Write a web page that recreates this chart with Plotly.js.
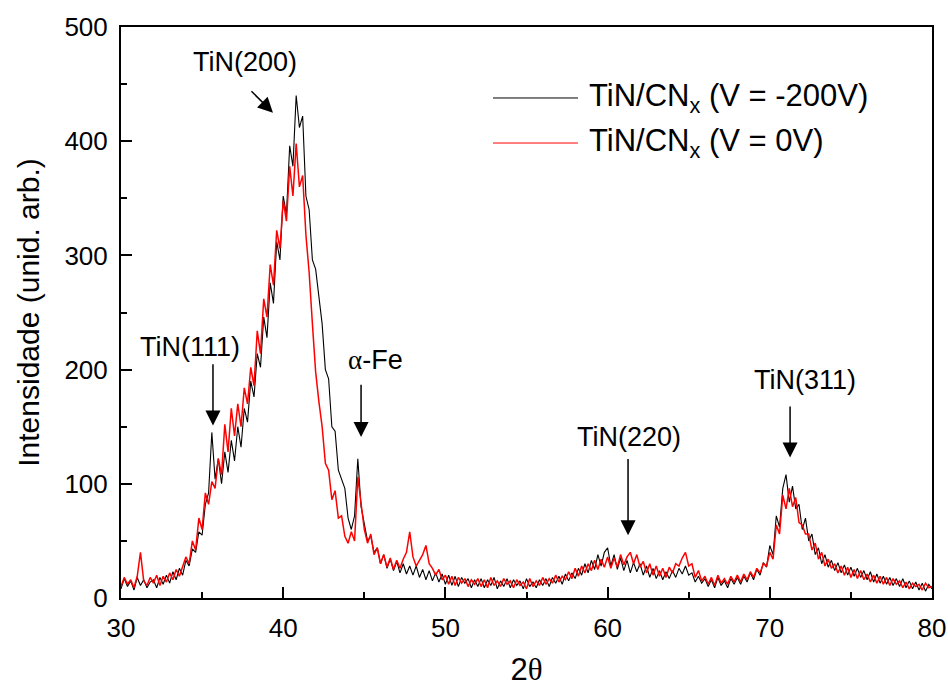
<!DOCTYPE html>
<html>
<head>
<meta charset="utf-8">
<script src="https://cdn.plot.ly/plotly-3.0.1.min.js"></script>
<style>html,body{margin:0;padding:0;background:#fff;}#chart{width:948px;height:689px;}</style>
</head>
<body>
<div id="chart"></div>
<script>
// 2-theta sampling grid: 30.0 to 80.0 in steps of 0.2 degrees
const thetaStart = 30;
const thetaStep = 0.2;

// Intensity, TiN/CNx (V = -200V), one value per grid step (10 values = 2 degrees per row)
const intensityNeg200 = [
  8, 17, 10, 15, 7, 18, 11, 16, 9, 14,
  16, 9, 18, 12, 20, 13, 23, 16, 26, 20,
  33, 28, 43, 40, 58, 55, 82, 92, 145, 104,
  122, 100, 128, 110, 138, 120, 150, 132, 166, 154,
  190, 176, 214, 202, 246, 228, 276, 258, 312, 296,
  352, 336, 396, 378, 440, 412, 422, 352, 340, 296,
  288, 262, 240, 200, 192, 150, 146, 112, 104, 96,
  70, 60, 72, 122, 80, 66, 50, 54, 40, 44,
  30, 38, 26, 34, 24, 32, 22, 30, 21, 28,
  20, 28, 18, 25, 16, 24, 15, 22, 14, 21,
  12, 20, 11, 19, 10, 18, 13, 17, 9, 16,
  10, 17, 9, 16, 11, 18, 8, 15, 10, 17,
  9, 16, 11, 15, 8, 17, 10, 14, 9, 16,
  11, 17, 10, 18, 13, 19, 12, 21, 15, 22,
  17, 26, 20, 30, 22, 33, 25, 38, 28, 40,
  44, 28, 38, 25, 35, 24, 33, 22, 31, 23,
  30, 20, 28, 18, 26, 17, 24, 16, 23, 17,
  24, 18, 26, 21, 28, 20, 22, 14, 19, 13,
  17, 10, 16, 9, 18, 11, 15, 9, 17, 12,
  18, 12, 19, 14, 22, 16, 25, 20, 31, 27,
  46, 38, 72, 62, 96, 108, 84, 98, 78, 82,
  60, 70, 50, 56, 38, 44, 30, 38, 27, 33,
  24, 31, 22, 29, 20, 27, 19, 26, 18, 24,
  16, 23, 14, 21, 13, 19, 12, 18, 11, 17,
  10, 17, 9, 15, 8, 14, 7, 13, 6, 12,
  8
];

// Intensity, TiN/CNx (V = 0V)
const intensity0V = [
  10, 18, 12, 16, 9, 19, 40, 15, 11, 18,
  13, 20, 11, 19, 14, 22, 16, 25, 19, 28,
  36, 30, 50, 42, 70, 60, 92, 82, 102, 96,
  122, 108, 152, 128, 166, 142, 170, 150, 184, 170,
  202, 186, 234, 214, 262, 246, 292, 274, 322, 306,
  348, 330, 378, 352, 398, 360, 370, 318, 285, 240,
  198, 172, 150, 118, 112, 86, 94, 70, 72, 54,
  48, 58, 50, 106, 82, 60, 48, 56, 38, 44,
  30, 38, 27, 35, 25, 33, 26, 34, 40, 58,
  36, 28, 33, 38, 46, 30, 26, 20, 25, 16,
  20, 12, 19, 11, 18, 13, 17, 10, 16, 12,
  17, 10, 16, 9, 18, 11, 15, 10, 17, 12,
  15, 9, 16, 11, 14, 8, 17, 10, 15, 11,
  18, 12, 17, 13, 20, 14, 19, 16, 23, 17,
  26, 19, 28, 22, 30, 24, 33, 25, 34, 27,
  36, 26, 35, 27, 38, 29, 36, 40, 30, 38,
  27, 32, 22, 30, 20, 28, 19, 26, 18, 27,
  22, 30, 28, 35, 40, 28, 30, 18, 24, 15,
  19, 12, 18, 11, 20, 13, 17, 12, 19, 14,
  20, 14, 21, 16, 23, 18, 26, 22, 30, 28,
  40, 34, 64, 56, 90, 78, 96, 80, 88, 66,
  64, 56, 56, 42, 48, 34, 40, 28, 34, 26,
  30, 22, 28, 20, 27, 18, 25, 17, 24, 16,
  21, 14, 20, 13, 19, 12, 18, 11, 17, 12,
  15, 9, 14, 8, 13, 10, 12, 7, 13, 9,
  10
];

const seriesNames = ['TiN/CN<sub>x</sub> (V = -200V)', 'TiN/CN<sub>x</sub> (V = 0V)'];
const seriesColors = ['#000000', '#ff0000'];

// Peak labels: text, text position, arrow tail, arrow head (data units)
const peakLabels = ['TiN(200)', 'TiN(111)', '<span style="font-family:\'Liberation Serif\',serif">α</span>-Fe', 'TiN(220)', 'TiN(311)'];
const labelX = [37.64, 34.25, 45.66, 61.32, 72.17];
const labelY = [469, 220, 208, 141, 191];
const arrowTailX = [37.95, 35.67, 44.80, 61.26, 71.25];
const arrowTailY = [445, 206, 188, 123, 169];
const arrowHeadX = [39.37, 35.67, 44.80, 61.26, 71.25];
const arrowHeadY = [425, 151, 141, 55, 123];

const xTickVals = [30, 40, 50, 60, 70, 80];
const yTickVals = [0, 100, 200, 300, 400, 500];

const twoTheta = intensityNeg200.map((_, i) => +(thetaStart + i * thetaStep).toFixed(2));

const FONT = 'Arial, "Liberation Sans", sans-serif';

const traces = [
  {x: twoTheta, y: intensityNeg200, type: 'scatter', mode: 'lines', name: seriesNames[0],
   line: {color: seriesColors[0], width: 1.1}, showlegend: false},
  {x: twoTheta, y: intensity0V, type: 'scatter', mode: 'lines', name: seriesNames[1],
   line: {color: seriesColors[1], width: 1.5}, showlegend: false}
];

const annotations = [];
peakLabels.forEach((t, i) => {
  annotations.push({x: labelX[i], y: labelY[i], xref: 'x', yref: 'y', text: t, showarrow: false,
    xanchor: 'center', yanchor: 'middle', font: {family: FONT, size: 27, color: '#000'}});
  annotations.push({x: arrowHeadX[i], y: arrowHeadY[i], ax: arrowTailX[i], ay: arrowTailY[i],
    xref: 'x', yref: 'y', axref: 'x', ayref: 'y', text: '', showarrow: true,
    arrowhead: 2, arrowsize: 2, arrowwidth: 1.5, arrowcolor: '#000', standoff: 0, startstandoff: 0});
});

// Manual legend (paper coordinates)
const legendY = [0.8757, 0.7968];
const shapes = [];
seriesNames.forEach((n, i) => {
  shapes.push({type: 'line', xref: 'paper', yref: 'paper', x0: 0.4587, x1: 0.5635, y0: legendY[i], y1: legendY[i],
    line: {color: seriesColors[i], width: 1}});
  annotations.push({xref: 'paper', yref: 'paper', x: 0.5746, y: legendY[i], text: n, showarrow: false,
    xanchor: 'left', yanchor: 'middle', font: {family: FONT, size: 31, color: '#000'}});
});

const axisCommon = {
  showline: true, linewidth: 2, linecolor: '#000', mirror: true,
  showgrid: false, zeroline: false,
  ticks: 'inside', ticklen: 11, tickwidth: 2, tickcolor: '#000',
  tickfont: {family: FONT, size: 26, color: '#000'},
  ticklabelstandoff: 6
};

const layout = {
  width: 948, height: 689,
  margin: {l: 121, r: 16, t: 27, b: 91},
  paper_bgcolor: '#fff', plot_bgcolor: '#fff',
  font: {family: FONT, color: '#000'},
  showlegend: false,
  xaxis: Object.assign({}, axisCommon, {
    range: [30, 80], tickmode: 'array', tickvals: xTickVals,
    minor: {dtick: 5, ticks: 'inside', ticklen: 6, tickwidth: 2, tickcolor: '#000'},
    title: {text: '2<span style="font-family:\'Liberation Serif\',serif">θ</span>', font: {family: FONT, size: 31, color: '#000'}, standoff: 16},
    automargin: false
  }),
  yaxis: Object.assign({}, axisCommon, {
    range: [0, 500], tickmode: 'array', tickvals: yTickVals,
    minor: {dtick: 50, ticks: 'inside', ticklen: 6, tickwidth: 2, tickcolor: '#000'},
    title: {text: 'Intensidade (unid. arb.)', font: {family: FONT, size: 30, color: '#000'}, standoff: 16},
    automargin: false
  }),
  annotations: annotations,
  shapes: shapes
};

Plotly.newPlot('chart', traces, layout, {displayModeBar: false, staticPlot: true});
</script>
</body>
</html>
